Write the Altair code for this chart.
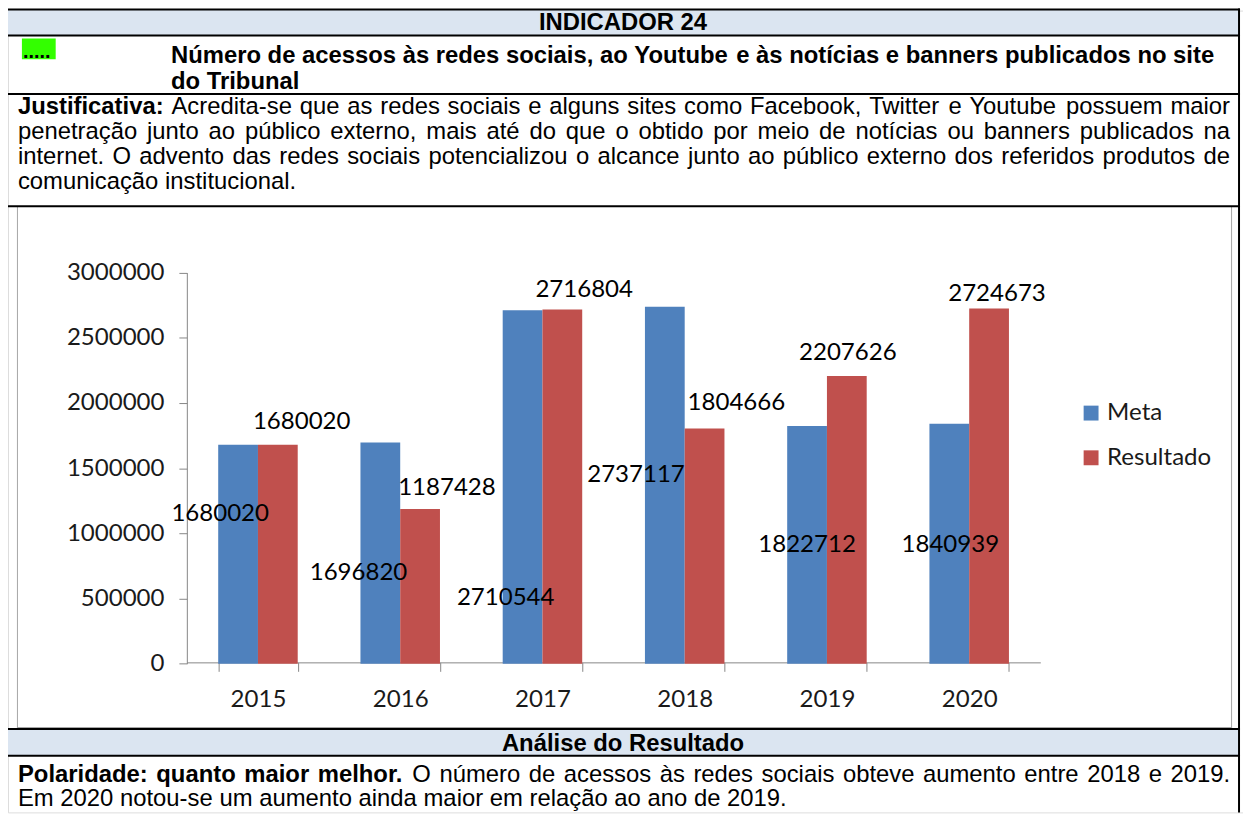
import unicodedata
import altair as alt
import pandas as pd

# ---------------- data ----------------
years = ["2015", "2016", "2017", "2018", "2019", "2020"]
meta = [1680020, 1696820, 2710544, 2737117, 1822712, 1840939]
resultado = [1680020, 1187428, 2716804, 1804666, 2207626, 2724673]
series = ["Meta", "Resultado"]
y_ticks = [0, 500000, 1000000, 1500000, 2000000, 2500000, 3000000]
colors = ["#4F81BD", "#C0504D"]

# nudges (px) reproducing the hand-placed data labels of the original
meta_dx = [-18, -22, -17, -29, 0, 1]
meta_dy = [70, 131, 290, 169, 120, 122]
res_dx = [24, 27, 22, 32, 1, 8]
res_dy = [-23, -21, -20, -26, -23, -15]

# ---------------- document text ----------------
heading = "INDICADOR 24"
title_lines = [
    ([("Número de acessos às redes sociais, ao Youtube e às notícias e banners publicados no site", True)], True),
    ([("do Tribunal", True)], False),
]
just_lines = [
    ([("Justificativa:", True), ("Acredita-se que as redes sociais e alguns sites como Facebook, Twitter e Youtube possuem maior", False)], True),
    ([("penetração junto ao público externo, mais até do que o obtido por meio de notícias ou banners publicados na", False)], True),
    ([("internet. O advento das redes sociais potencializou o alcance junto ao público externo dos referidos produtos de", False)], True),
    ([("comunicação institucional.", False)], False),
]
analise = "Análise do Resultado"
pol_lines = [
    ([("Polaridade: quanto maior melhor.", True), ("O número de acessos às redes sociais obteve aumento entre 2018 e 2019.", False)], True),
    ([("Em 2020 notou-se um aumento ainda maior em relação ao ano de 2019.", False)], False),
]

# ---------------- layout helpers ----------------
M = 8  # page margin
W, H = 1243, 807
FONT_DOC = "Liberation Sans"
FONT_CHART = "Lato"
FS = 24
FS_CHART = 24.2

_up = "ABCDEFGHIJKLMNOPQRSTUVWXYZ"
_lo = "abcdefghijklmnopqrstuvwxyz"
AR = dict(zip(_up, [667, 667, 722, 722, 667, 611, 778, 722, 278, 500, 667, 556, 833, 722, 778, 667, 778, 722, 667, 611, 722, 667, 944, 667, 667, 611]))
AR.update(zip(_lo, [556, 556, 500, 556, 556, 278, 556, 556, 222, 222, 500, 222, 833, 556, 556, 556, 556, 333, 500, 278, 556, 500, 722, 500, 500, 500]))
AR.update({" ": 278, ",": 278, "-": 333, ".": 278, ":": 278, "í": 278})
AR.update({d: 556 for d in "0123456789"})
AB = dict(zip(_up, [722, 722, 722, 722, 667, 611, 778, 722, 278, 556, 722, 611, 833, 722, 778, 667, 778, 722, 667, 611, 722, 667, 944, 667, 667, 611]))
AB.update(zip(_lo, [556, 611, 556, 611, 556, 333, 611, 611, 278, 278, 556, 278, 889, 611, 611, 611, 611, 389, 556, 333, 611, 556, 778, 556, 556, 500]))
AB.update({" ": 278, ",": 278, "-": 333, ".": 278, ":": 333, "í": 278})
AB.update({d: 556 for d in "0123456789"})


def text_width(s, bold, size):
    tbl = AB if bold else AR
    tot = 0
    for c in s:
        if c in tbl:
            tot += tbl[c]
        else:
            base = unicodedata.normalize("NFD", c)[0]
            tot += tbl.get(base, 556)
    return tot * size / 1000.0


def place_line(segments, x0, x1, yc, size, justify):
    words = [(w, b) for text, b in segments for w in text.split()]
    widths = [text_width(w, b, size) for w, b in words]
    gap = 0.278 * size
    if justify and len(words) > 1:
        gap = max(gap * 0.8, (x1 - x0 - sum(widths)) / (len(words) - 1))
    rows, x = [], x0
    for (w, b), wd in zip(words, widths):
        rows.append({"px": x - M, "py": yc - M, "t": w, "b": b})
        x += wd + gap
    return rows


word_rows = []
for (segs, just), yc in zip(title_lines, [54, 80]):
    word_rows += place_line(segs, 172, 1222, yc, FS, just)
for (segs, just), yc in zip(just_lines, [105.5, 130.5, 155.5, 180.5]):
    word_rows += place_line(segs, 18, 1238, yc, FS, just)
for (segs, just), yc in zip(pol_lines, [777, 802]):
    word_rows += place_line(segs, 18, 1238, yc, FS, just)
words_df = pd.DataFrame(word_rows)

# table cells / borders (page coordinates)
rect_rows = [
    (7, 1248, 7, 33, "#DBE5F1"),
    (7, 1248, 731, 758, "#DBE5F1"),
    (22, 56, 36, 57, "#33FF00"),
    # chart frame (thin grey)
    (17, 18, 205, 730, "#A6A6A6"),
    (1239, 1240, 205, 730, "#A6A6A6"),
    (17, 1240, 729, 730, "#A6A6A6"),
    # black grid lines
    (6, 8, 6, 815, "#000000"),
    (1246, 1248, 6, 815, "#000000"),
    (6, 1248, 6, 8, "#000000"),
    (6, 1248, 32, 34, "#000000"),
    (6, 1248, 91, 93, "#000000"),
    (6, 1248, 204, 206, "#000000"),
    (6, 1248, 730, 732, "#000000"),
    (6, 1248, 757, 759, "#000000"),
]
rects_df = pd.DataFrame(
    [{"x": a - M, "x2": b - M, "y": c - M, "y2": d - M, "c": col} for a, b, c, d, col in rect_rows]
)

centered_df = pd.DataFrame(
    [
        {"px": 627 - M, "py": 20.5 - M, "t": heading},
        {"px": 627 - M, "py": 746 - M, "t": analise},
    ]
)
dots_df = pd.DataFrame([{"px": 23 - M, "py": 50 - M, "t": "....."}])

sx = dict(scale=None, axis=None)

rects = alt.Chart(rects_df).mark_rect().encode(
    x=alt.X("x:Q", **sx), x2="x2:Q", y=alt.Y("y:Q", **sx), y2="y2:Q",
    color=alt.Color("c:N", scale=None),
)
words_reg = alt.Chart(words_df[~words_df.b]).mark_text(
    align="left", baseline="middle", font=FONT_DOC, fontSize=FS, color="#000000"
).encode(x=alt.X("px:Q", **sx), y=alt.Y("py:Q", **sx), text="t:N")
words_bold = alt.Chart(words_df[words_df.b]).mark_text(
    align="left", baseline="middle", font=FONT_DOC, fontSize=FS, fontWeight="bold", color="#000000"
).encode(x=alt.X("px:Q", **sx), y=alt.Y("py:Q", **sx), text="t:N")
centered = alt.Chart(centered_df).mark_text(
    align="center", baseline="middle", font=FONT_DOC, fontSize=FS, fontWeight="bold", color="#000000"
).encode(x=alt.X("px:Q", **sx), y=alt.Y("py:Q", **sx), text="t:N")
dots = alt.Chart(dots_df).mark_text(
    align="left", baseline="middle", font=FONT_DOC, fontSize=FS - 4, fontWeight="bold", color="#000000"
).encode(x=alt.X("px:Q", **sx), y=alt.Y("py:Q", **sx), text="t:N")

decor = alt.layer(rects, words_reg, words_bold, centered, dots)

# ---------------- bar chart ----------------
rows = []
for i, yr in enumerate(years):
    rows.append({"year": yr, "series": series[0], "value": meta[i]})
    rows.append({"year": yr, "series": series[1], "value": resultado[i]})
df = pd.DataFrame(rows)

x_enc = alt.X(
    "year:N", sort=years, title=None,
    scale=alt.Scale(domain=years, range=[188 - M, 1047 - M], paddingInner=0.441, paddingOuter=0.2205),
    axis=alt.Axis(
        offset=(664 - M) - H, tickBand="extent", tickSize=9, tickColor="#868686",
        domainColor="#868686", labelFont=FONT_CHART, labelFontSize=FS_CHART,
        labelColor="#1a1a1a", labelPadding=16, labelAngle=0, grid=False,
    ),
)
xo_enc = alt.XOffset("series:N", sort=series, scale=alt.Scale(domain=series))
y_enc = alt.Y(
    "value:Q", title=None,
    scale=alt.Scale(domain=[0, 3000000], range=[665.3 - M, 271.7 - M], nice=False),
    axis=alt.Axis(
        values=y_ticks, format="d", offset=-(188 - M), tickSize=8, tickColor="#868686",
        domainColor="#868686", labelFont=FONT_CHART, labelFontSize=FS_CHART,
        labelColor="#1a1a1a", labelPadding=15, grid=False,
    ),
)

bars = alt.Chart(df).mark_bar().encode(
    x=x_enc, xOffset=xo_enc, y=y_enc,
    color=alt.Color(
        "series:N", sort=series, title=None,
        scale=alt.Scale(domain=series, range=colors),
        legend=alt.Legend(
            orient="none", legendX=1078, legendY=393, symbolType="square",
            symbolSize=225, symbolStrokeWidth=0, labelFont=FONT_CHART,
            labelFontSize=FS_CHART, labelColor="#1a1a1a", labelOffset=4,
            rowPadding=20,
        ),
    ),
)

label_layers = []
for i, yr in enumerate(years):
    for s, dxs, dys in ((series[0], meta_dx, meta_dy), (series[1], res_dx, res_dy)):
        label_layers.append(
            alt.Chart(df)
            .transform_filter(f"datum.year == '{yr}' && datum.series == '{s}'")
            .mark_text(
                align="center", baseline="middle", font=FONT_CHART,
                fontSize=FS_CHART, color="#000000", dx=dxs[i], dy=dys[i],
            )
            .encode(x=x_enc, xOffset=xo_enc, y=y_enc, text=alt.Text("value:Q", format="d"))
        )

chart_part = alt.layer(bars, *label_layers)

chart = (
    alt.layer(decor, chart_part)
    .resolve_scale(x="independent", y="independent", color="independent")
    .properties(width=W, height=H, autosize=alt.AutoSizeParams(type="none"), padding=0)
    .configure_view(strokeWidth=0)
    .configure(background="#ffffff")
)

chart.save("out.html", embed_options={"renderer": "svg", "actions": False})
